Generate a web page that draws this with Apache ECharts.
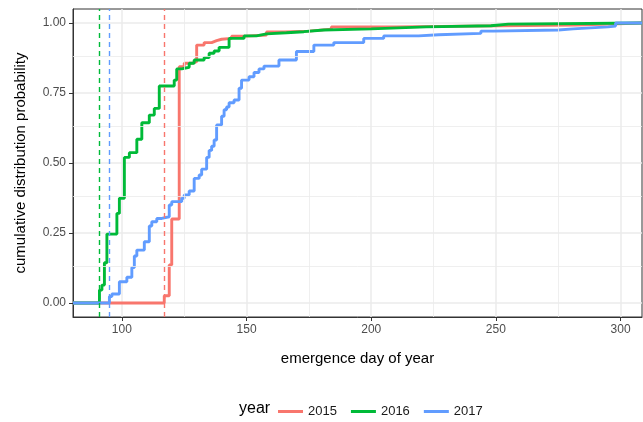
<!DOCTYPE html>
<html>
<head>
<meta charset="utf-8">
<script src="https://cdn.jsdelivr.net/npm/echarts@6/dist/echarts.min.js"></script>
<style>
  html, body { margin: 0; padding: 0; background: #fff; }
  #chart { width: 643px; height: 422px; }
</style>
</head>
<body>
<div id="chart"></div>
<script>
const years = ['2015', '2016', '2017']
const colors = ['#F8766D', '#00BA38', '#619CFF']
const firstDay = [117, 91, 95]

const days2015 = [117, 119, 120, 123, 125, 128, 130, 133, 136, 138, 140, 144, 150, 158, 165, 175, 184, 210, 282]
const cdf2015 = [0.026, 0.136, 0.30, 0.844, 0.856, 0.862, 0.921, 0.930, 0.937, 0.942, 0.945, 0.953, 0.957, 0.968, 0.971, 0.978, 0.986, 0.993, 1.0]

const days2016 = [91, 92, 93, 94, 98, 99, 101, 103, 106, 108, 111, 113, 115, 121, 122, 124, 127, 129, 133, 135, 137, 139, 143, 149, 154, 158, 166, 173, 181, 200, 222, 248, 255]
const cdf2016 = [0.046, 0.064, 0.144, 0.246, 0.32, 0.374, 0.52, 0.537, 0.585, 0.644, 0.671, 0.695, 0.775, 0.796, 0.836, 0.842, 0.856, 0.868, 0.877, 0.892, 0.90, 0.913, 0.945, 0.954, 0.961, 0.965, 0.969, 0.975, 0.979, 0.986, 0.99, 0.996, 1.0]

const days2017 = [95, 96, 99, 102, 104, 105, 106, 109, 111, 112, 114, 116, 119, 120, 124, 125, 127, 129, 131, 132, 134, 135, 136, 137, 138, 140, 141, 142, 143, 145, 147, 148, 151, 153, 155, 157, 163, 170, 177, 185, 197, 205, 219, 227, 244, 249, 275, 281, 295, 298]
const cdf2017 = [0.023, 0.032, 0.076, 0.092, 0.127, 0.168, 0.189, 0.219, 0.275, 0.29, 0.302, 0.308, 0.35, 0.362, 0.374, 0.386, 0.40, 0.445, 0.457, 0.478, 0.52, 0.545, 0.56, 0.582, 0.636, 0.667, 0.69, 0.70, 0.715, 0.725, 0.767, 0.796, 0.808, 0.823, 0.836, 0.846, 0.868, 0.898, 0.921, 0.930, 0.945, 0.954, 0.958, 0.963, 0.971, 0.975, 0.979, 0.986, 0.989, 1.0]

const xTicks = [100, 150, 200, 250, 300]
const xMinor = [125, 175, 225, 275]
const yTicks = [0, 0.25, 0.5, 0.75, 1]
const yMinor = [0.125, 0.375, 0.625, 0.875]
const X_MIN = 80.4, X_MAX = 308.6

const FONT = 'Liberation Sans, Arial, Helvetica, sans-serif'
const allDays = [days2015, days2016, days2017]
const allCdf = [cdf2015, cdf2016, cdf2017]

// ecdf padded to the panel edges like stat_ecdf
function ecdf(d, p) {
  return [[X_MIN, 0]].concat(d.map((x, i) => [x, p[i]]), [[X_MAX, 1]])
}

const stepSeries = years.map((y, i) => ({
  name: y, type: 'line', step: 'end', showSymbol: false, symbol: 'none', z: 3,
  color: colors[i],
  lineStyle: { color: colors[i], width: 2.9 },
  data: ecdf(allDays[i], allCdf[i]),
  markLine: {
    silent: true, symbol: 'none', label: { show: false }, animation: false,
    lineStyle: { color: colors[i], type: [5, 4], width: 1.4 },
    data: [{ xAxis: firstDay[i] }],
  },
}))

const minorGrid = {
  type: 'line', data: [], z: 1, silent: true,
  markLine: {
    silent: true, symbol: 'none', label: { show: false }, animation: false,
    lineStyle: { color: '#ebebeb', type: 'solid', width: 0.8 },
    data: xMinor.map(v => ({ xAxis: v })).concat(yMinor.map(v => ({ yAxis: v }))),
  },
}

const axisLine = { show: true, onZero: false, lineStyle: { color: '#333333', width: 1 } }

const chart = echarts.init(document.getElementById('chart'))
chart.setOption({
  animation: false,
  textStyle: { fontFamily: FONT },
  grid: { left: 73, right: 1, top: 9, bottom: 105, show: true, borderColor: '#333333', borderWidth: 1, backgroundColor: '#fff' },
  title: {
    text: 'year', left: 234, top: 396,
    textStyle: { fontFamily: FONT, fontSize: 16, fontWeight: 'normal', color: '#000' },
  },
  legend: {
    data: years, left: 273, top: 400, icon: 'rect', itemWidth: 25, itemHeight: 3, itemGap: 14,
    textStyle: { fontFamily: FONT, fontSize: 13, color: '#1a1a1a' },
  },
  xAxis: {
    type: 'value', min: X_MIN, max: X_MAX,
    name: 'emergence day of year', nameLocation: 'middle', nameGap: 34,
    nameTextStyle: { fontFamily: FONT, fontSize: 15, color: '#000' },
    axisLine,
    axisTick: { show: true, length: 4, customValues: xTicks, lineStyle: { color: '#333333' } },
    axisLabel: { customValues: xTicks, margin: 7, fontSize: 12, color: '#4d4d4d', fontFamily: FONT },
    splitLine: { show: true, lineStyle: { color: '#ebebeb', width: 1.5 } },
  },
  yAxis: {
    type: 'value', min: -0.05, max: 1.05,
    name: 'cumulative distribution probability', nameLocation: 'middle', nameGap: 45,
    nameTextStyle: { fontFamily: FONT, fontSize: 15, color: '#000' },
    axisLine,
    axisTick: { show: true, length: 4, customValues: yTicks, lineStyle: { color: '#333333' } },
    axisLabel: { customValues: yTicks, margin: 7, fontSize: 12, color: '#4d4d4d', fontFamily: FONT, formatter: v => v.toFixed(2) },
    splitLine: { show: true, lineStyle: { color: '#ebebeb', width: 1.5 } },
  },
  series: [minorGrid].concat(stepSeries),
})
</script>
</body>
</html>
